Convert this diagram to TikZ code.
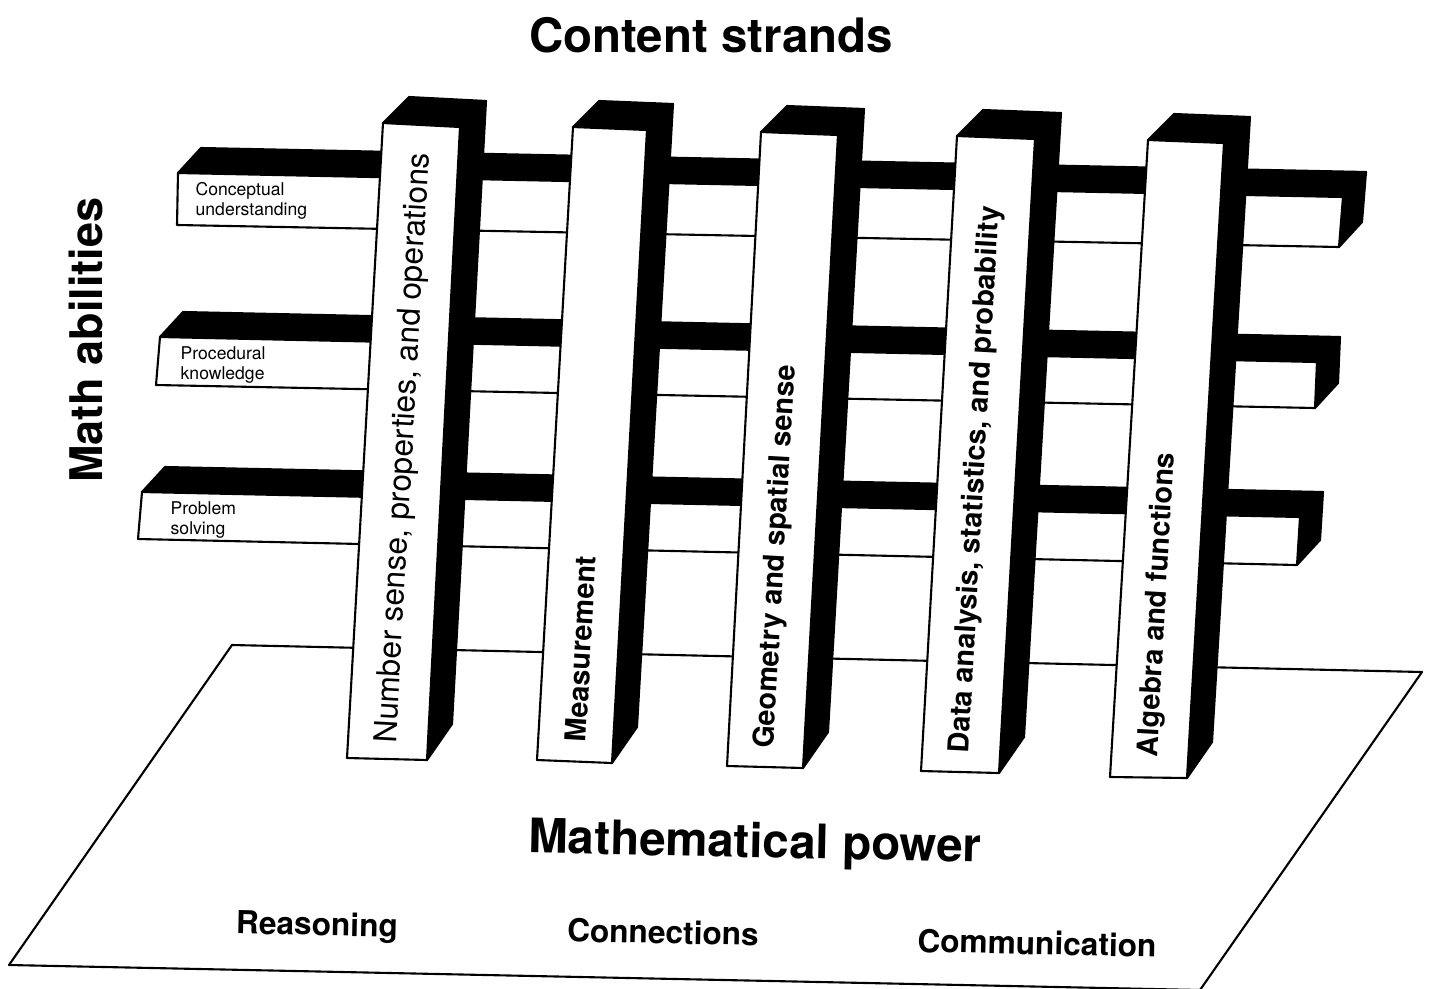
\documentclass[tikz,border=0pt]{standalone}
\usepackage{fontspec}
\setmainfont{TeX Gyre Heros}
\usepackage{tikz}
\usetikzlibrary{calc}
\definecolor{ink}{HTML}{000000}
\definecolor{paper}{HTML}{FFFFFF}
\tikzset{
  face/.style={fill=paper, draw=ink, line width=0.6pt, line join=round},
  dark/.style={fill=ink, draw=ink, line width=0.6pt, line join=round},
  floor/.style={fill=paper, draw=ink, line width=0.6pt, line join=round},
  head/.style={text=ink, font=\bfseries\fontsize{13.5}{16}\selectfont},
  proc/.style={text=ink, font=\bfseries\fontsize{9}{11}\selectfont, rotate=-1.2},
  abil/.style={text=ink, font=\fontsize{5}{5.6}\selectfont, align=left, anchor=north west, inner sep=0pt},
  strand/.style={text=ink, font=\fontsize{9}{11}\selectfont, anchor=west, inner sep=0pt, rotate=86.8},
  strandb/.style={strand, font=\bfseries\fontsize{8.2}{10}\selectfont},
}

\begin{document}
\begin{tikzpicture}[x=0.1mm, y=-0.1mm]
\useasboundingbox (0,0) rectangle (1430,989);

% floor plane
\draw[floor] (232,645) coordinate (f-tl) -- (1422,672) coordinate (f-tr)
  -- (1200,990) coordinate (f-br) -- (9,965) coordinate (f-bl) -- cycle;

% ability bars (behind the strands)
\foreach \n/\ax/\ay/\bx/\by/\cx/\cy/\dx/\dy in {
  conc/178/173/1343/197/1339/247/177/225,
  proc/160/337/1317/362/1315/408/156/385,
  prob/142/492/1300/517/1297/565/138/539}{
  \coordinate (\n-tl) at (\ax,\ay);
  \coordinate (\n-tr) at (\bx,\by);
  \coordinate (\n-br) at (\cx,\cy);
  \coordinate (\n-bl) at (\dx,\dy);
  \draw[dark] (\n-tl) -- ++(23,-25) -- ($(\n-tr)+(23,-25)$) -- (\n-tr) -- cycle;
  \draw[dark] (\n-tr) -- ++(23,-25) -- ($(\n-br)+(23,-25)$) -- (\n-br) -- cycle;
  \draw[face] (\n-tl) -- (\n-tr) -- (\n-br) -- (\n-bl) -- cycle;
}
\node[abil] (lconc) at (195,182) {Conceptual\\understanding};
\node[abil] (lproc) at (180,346) {Procedural\\knowledge};
\node[abil] (lprob) at (170,501) {Problem\\solving};

% content strand pillars
\foreach \n/\ax/\ay/\bx/\by/\cx/\cy/\dx/\dy in {
  num/383/123/460/127/427/760/347/758,
  meas/573/127/647/130/612/763/537/760,
  geom/761/132/838/135/803/768/727/766,
  data/957/136/1035/139/999/773/921/771,
  alg/1148/140/1224/143/1187/778/1110/777}{
  \coordinate (\n-tl) at (\ax,\ay);
  \coordinate (\n-tr) at (\bx,\by);
  \coordinate (\n-br) at (\cx,\cy);
  \coordinate (\n-bl) at (\dx,\dy);
  \draw[dark] (\n-tl) -- ++(26,-26) -- ($(\n-tr)+(26,-26)$) -- (\n-tr) -- cycle;
  \draw[dark] (\n-tr) -- ++(26,-26) -- ($(\n-br)+(25,-36)$) -- (\n-br) -- cycle;
  \draw[face] (\n-tl) -- (\n-tr) -- (\n-br) -- (\n-bl) -- cycle;
}
\node[strand] (snum) at ($(num-bl)!0.5!(num-br)+(1,-15)$) {Number sense, properties, and operations};
\node[strandb] (smeas) at ($(meas-bl)!0.5!(meas-br)+(1,-19)$) {Measurement};
\node[strandb] (sgeom) at ($(geom-bl)!0.5!(geom-br)+(1,-18)$) {Geometry and spatial sense};
\node[strandb] (sdata) at ($(data-bl)!0.5!(data-br)+(1,-18)$) {Data analysis, statistics, and probability};
\node[strandb] (salg) at ($(alg-bl)!0.5!(alg-br)+(1,-20)$) {Algebra and functions};

% headings
\node[head] (tcs) at (711,35) {Content strands};
\node[head, font=\bfseries\fontsize{12.8}{15}\selectfont, rotate=90] (tma) at (86,340) {Math abilities};
\node[head, rotate=-1.2] (tmp) at (755,845) {Mathematical power};
\node[proc] (treas) at (317,927) {Reasoning};
\node[proc] (tconn) at (663,932) {Connections};
\node[proc] (tcomm) at (1037,943) {Communication};
\end{tikzpicture}
\end{document}
